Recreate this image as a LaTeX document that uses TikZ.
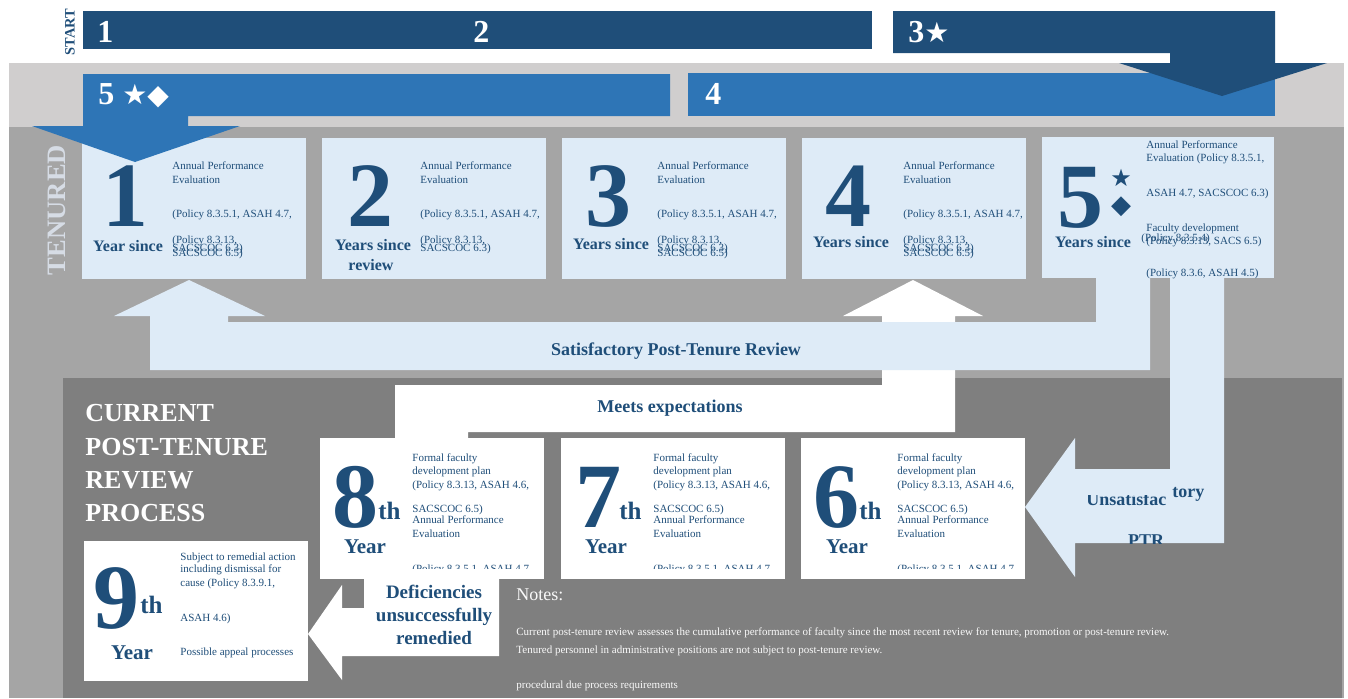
\documentclass[tikz,border=0pt]{standalone}
\usepackage{fontspec}
\setmainfont{Liberation Serif}
\newfontfamily\symfont{DejaVu Sans}
\usepackage{xcolor}
\usepackage{tikz}
\usetikzlibrary{positioning, calc}
\definecolor{navy}{HTML}{1F4E79}
\definecolor{midblue}{HTML}{2E75B6}
\definecolor{paleblue}{HTML}{DEEBF7}
\definecolor{bandgray}{HTML}{D0CECE}
\definecolor{tengray}{HTML}{A5A5A5}
\definecolor{lowgray}{HTML}{7F7F7F}
\definecolor{tenlabel}{HTML}{D6DCE5}
\tikzset{
  bignum/.style={font=\fontsize{46}{46}\selectfont\bfseries, text=navy, inner sep=0, anchor=base},
  sincelbl/.style={font=\fontsize{8}{9}\selectfont\bfseries, text=navy, inner sep=0},
  yearlbl/.style={font=\fontsize{10.5}{11}\selectfont\bfseries, text=navy, inner sep=0, anchor=base},
  thlbl/.style={font=\fontsize{12.5}{13}\selectfont\bfseries, text=navy, inner sep=0, anchor=base west},
  fine/.style={font=\fontsize{5.5}{6.5}\selectfont, text=navy, inner sep=0, anchor=base west},
  barnum/.style={font=\fontsize{16}{16}\selectfont\bfseries, text=white, inner sep=0, anchor=base west},
  flowlbl/.style={font=\fontsize{9}{11.5}\selectfont\bfseries, text=navy, inner sep=0, align=center},
  heading/.style={font=\fontsize{13}{16.7}\selectfont\bfseries, text=white, align=left, inner sep=0, anchor=north west},
  notehead/.style={font=\fontsize{9}{10}\selectfont, text=white!95!gray, inner sep=0, anchor=base west},
  notes/.style={font=\fontsize{5.5}{6.5}\selectfont, text=white!95!gray, inner sep=0, anchor=base west},
  tenured/.style={rotate=90, font=\fontsize{13.3}{14}\selectfont\bfseries, text=tenlabel, inner sep=0},
  startlbl/.style={rotate=90, font=\fontsize{7.2}{8}\selectfont\bfseries, text=navy, inner sep=0},
  mark5/.style={text=navy, inner sep=0},
  every node/.style={font=\small}
}

\begin{document}
\begin{tikzpicture}[x=0.5pt, y=-0.5pt]
    \useasboundingbox (0,0) rectangle (1348,698);
    \fill[bandgray] (9,63) rectangle (1344,127);
    \fill[tengray] (9,127) rectangle (1344,698);
    \fill[lowgray] (63,378) rectangle (1342,698);
    \node[tenured] (tenured) at (57,210) {TENURED};

    \fill[white] (882,316) -- (843,316) -- (913,280) -- (983,316) -- (955,316) -- (955,432) -- (468,432) -- (468,441) -- (395,441) -- (395,385) -- (882,385) -- cycle;
    \fill[paleblue] (1096,278) -- (1150,278) -- (1150,370) -- (150,370) -- (150,316) -- (114,316) -- (189,280) -- (265,316) -- (228,316) -- (228,322) -- (1096,322) -- cycle;
    \fill[paleblue] (1170,278) -- (1224,278) -- (1224,543) -- (1075,543) -- (1075,577) -- (1025,507) -- (1075,438) -- (1075,469) -- (1170,469) -- cycle;

    \foreach \bx/\num/\nx/\tx/\ly/\since in {82/1/43/90/246/Year since, 322/2/48/98/245/Years since, 562/3/46/95/244/Years since, 802/4/46/101/242/Years since} {
        \fill[paleblue] (\bx,138) rectangle ++(224,141);
        \node[bignum] (num\num) at (\bx+\nx,226) {\num};
        \node[sincelbl] (since\num) at (\bx+\nx+3,\ly) {\since};
        \node[fine] (ape\num) at (\bx+\tx,169) {Annual Performance};
        \node[fine] (eva\num) at (\bx+\tx,183) {Evaluation};
        \node[fine] (pol\num) at (\bx+\tx,217) {(Policy 8.3.5.1, ASAH 4.7,};
        \node[fine] (pcy\num) at (\bx+\tx,243) {(Policy 8.3.13,};
        \node[fine] (sac\num) at (\bx+\tx,251) {SACSCOC 6.3)};
    }
    \foreach \bx/\tx in {82/90, 562/95, 802/101}
        \node[fine] (sacb\bx) at (\bx+\tx,256) {SACSCOC 6.5)};
    \node[sincelbl] (review2) at (371,265) {review};

    \fill[paleblue] (1042,137) rectangle (1274,278);
    \node[bignum] (num5) at (1080,227) {5};
    \node[mark5, font=\symfont\fontsize{12}{12}\selectfont] (star5) at (1121,178) {★};
    \node[mark5, font=\symfont\fontsize{13}{13}\selectfont] (diam5) at (1121,207) {◆};
    \node[sincelbl] (since5) at (1093,242) {Years since};
    \node[fine] (ape5) at (1146,148) {Annual Performance};
    \node[fine] (eva5) at (1146,161) {Evaluation (Policy 8.3.5.1,};
    \node[fine] (asah5) at (1146,196) {ASAH 4.7, SACSCOC 6.3)};
    \node[fine] (fac5) at (1146,231) {Faculty development};
    \node[fine] (pold5) at (1141,241) {(Policy 8.3.5.4)};
    \node[fine] (sacs5) at (1146,244) {(Policy 8.3.13, SACS 6.5)};
    \node[fine] (asb5) at (1146,276) {(Policy 8.3.6, ASAH 4.5)};

    \foreach \bx/\num/\nx/\yx/\tx in {320/8/35/45/92, 561/7/37/45/92, 801/6/35/46/96} {
        \fill[white] (\bx,438) rectangle ++(224,141);
        \node[bignum] (big\num) at (\bx+\nx,527) {\num};
        \node[thlbl] (th\num) at (\bx+58,519) {th};
        \node[yearlbl] (yr\num) at (\bx+\yx,553) {Year};
        \node[fine] (fac\num) at (\bx+\tx,461) {Formal faculty};
        \node[fine] (dev\num) at (\bx+\tx,474) {development plan};
        \node[fine] (pla\num) at (\bx+\tx,488) {(Policy 8.3.13, ASAH 4.6,};
        \node[fine] (sco\num) at (\bx+\tx,512) {SACSCOC 6.5)};
        \node[fine] (ann\num) at (\bx+\tx,523) {Annual Performance};
        \node[fine] (ev\num) at (\bx+\tx,537) {Evaluation};
        \begin{scope}
            \clip (\bx,438) rectangle ++(224,130);
            \node[fine] (cut\num) at (\bx+\tx,572) {(Policy 8.3.5.1, ASAH 4.7,};
        \end{scope}
    }

    \fill[white] (84,541) rectangle (308,681);
    \node[bignum] (big9) at (116,628) {9};
    \node[thlbl] (th9) at (140,613) {th};
    \node[yearlbl] (yr9) at (132,659) {Year};
    \node[fine] (sub9) at (180,560) {Subject to remedial action};
    \node[fine] (inc9) at (180,572) {including dismissal for};
    \node[fine] (cau9) at (180,586) {cause (Policy 8.3.9.1,};
    \node[fine] (asa9) at (180,621) {ASAH 4.6)};
    \node[fine] (app9) at (180,655) {Possible appeal processes};

    \fill[white] (364,575) -- (499,575) -- (499,656) -- (342,656) -- (342,680) -- (308,634) -- (342,585) -- (342,608) -- (364,608) -- cycle;

    \node[heading] (title) at (85,404) {CURRENT\\POST-TENURE\\REVIEW\\PROCESS};
    \node[flowlbl] (satis) at (676,351) {Satisfactory Post-Tenure Review};
    \node[flowlbl] (meets) at (670,408) {Meets expectations};
    \node[flowlbl, font=\fontsize{9.5}{11.5}\selectfont\bfseries] (defic) at (434,615) {Deficiencies\\unsuccessfully\\remedied};
    \begin{scope}
        \clip (1075,495) rectangle (1224,543);
        \node[flowlbl, anchor=base west] (unsat) at (1086,505) {Unsatisfac};
        \node[flowlbl, anchor=base] (ptr) at (1146,546) {PTR};
    \end{scope}
    \node[flowlbl, anchor=base west] (tory) at (1172,497) {tory};

    \node[notehead] (noteshead) at (516,600) {Notes:};
    \node[notes] (note1) at (516,635) {Current post-tenure review assesses the cumulative performance of faculty since the most recent review for tenure, promotion or post-tenure review.};
    \node[notes] (note2) at (516,653) {Tenured personnel in administrative positions are not subject to post-tenure review.};
    \node[notes] (note3) at (516,688) {procedural due process requirements};

    \fill[navy] (83,11) rectangle (872,49);
    \node[barnum] (bar1) at (97,42) {1};
    \node[barnum] (bar2) at (473,42) {2};
    \fill[midblue] (688,73) rectangle (1275,116);
    \node[barnum] (bar4) at (705,104) {4};
    \fill[navy] (893,11) -- (1275,11) -- (1275,63) -- (1327,63) -- (1222,96) -- (1119,63) -- (1170,63) -- (1170,53) -- (893,53) -- cycle;
    \node[barnum] (bar3) at (908,42) {3{\symfont\fontsize{14}{14}\selectfont ★}};
    \fill[midblue] (83,74) -- (670,74) -- (670,116) -- (188,116) -- (188,126) -- (240,126) -- (135,162) -- (32,126) -- (83,126) -- cycle;
    \node[barnum] (bar5) at (98,104) {5 {\symfont\fontsize{14}{14}\selectfont ★◆}};
    \node[startlbl] (start) at (70,32) {START};
\end{tikzpicture}
\end{document}
